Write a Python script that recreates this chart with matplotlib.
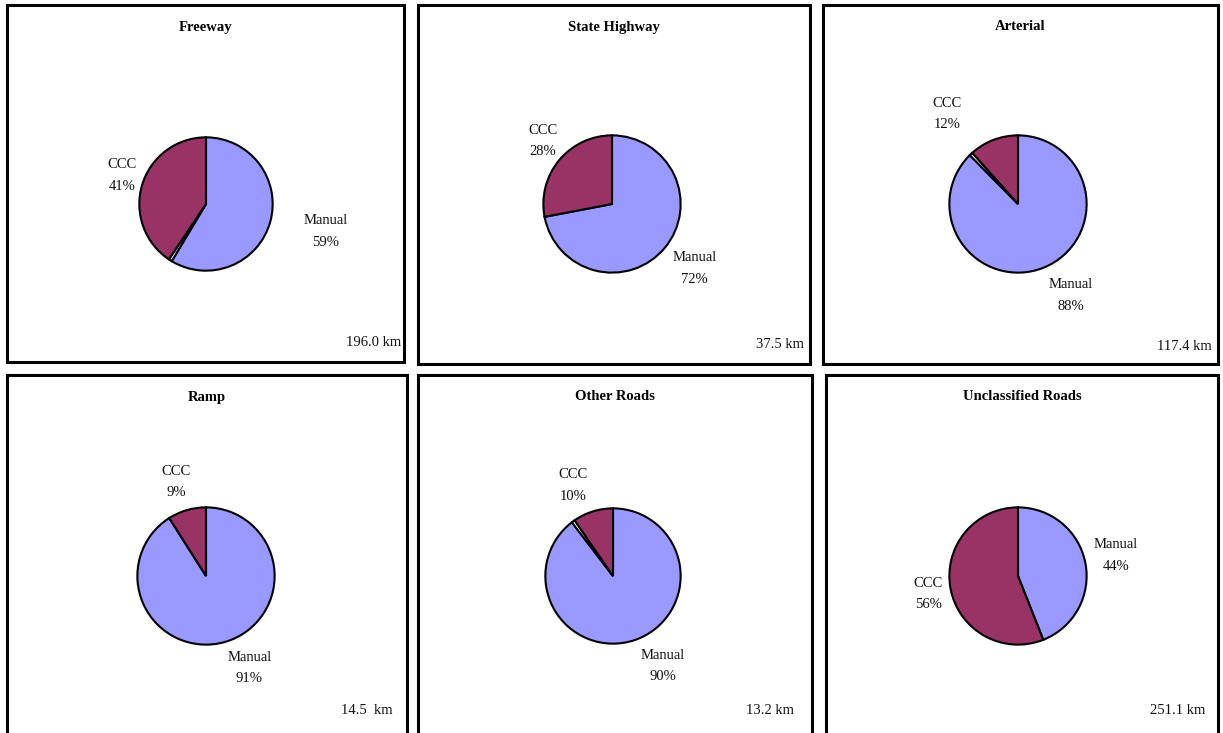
import matplotlib
matplotlib.use("Agg")
import matplotlib.pyplot as plt
from matplotlib.patches import Rectangle

# Road classes and share of length by survey method (percent of total)
road_classes = ["Freeway", "State Highway", "Arterial", "Ramp", "Other Roads", "Unclassified Roads"]
manual_pct = [58.6, 72.0, 87.6, 91.0, 89.6, 44.0]
other_pct = [0.8, 0.0, 0.8, 0.0, 0.8, 0.0]
ccc_pct = [40.6, 28.0, 11.6, 9.0, 9.6, 56.0]
lengths_km = ["196.0 km", "37.5 km", "117.4 km", "14.5  km", "13.2 km", "251.1 km"]

W, H = 1223, 733
fig = plt.figure(figsize=(W / 100, H / 100), dpi=100)
fig.patch.set_facecolor("white")

SERIF = ["Liberation Serif", "DejaVu Serif"]
MANUAL_C = "#9999FF"
CCC_C = "#993366"
TXT_C = "#111111"


def fx(x):
    return x / W


def fy(y):
    return 1 - y / H


# panel frames (left, top, right, bottom) in pixels
panels = [
    (7, 5, 404, 362),
    (418, 5, 810, 364),
    (823, 5, 1218, 364),
    (7, 375, 407, 745),
    (418, 375, 812, 745),
    (826, 375, 1218, 745),
]
# pie centre and radius in pixels
pies = [
    (206, 204, 68),
    (612, 204, 70),
    (1018, 204, 70),
    (206, 576, 70),
    (613, 576, 69),
    (1018, 576, 70),
]
# label offsets in radius units: CCC label, Manual label
ccc_pos = [(-1.26, 0.43), (-1.01, 0.92), (-1.03, 1.31), (-0.43, 1.37), (-0.59, 1.34), (-1.31, -0.26)]
man_pos = [(1.79, -0.41), (1.2, -0.94), (0.77, -1.33), (0.63, -1.34), (0.74, -1.33), (1.43, 0.30)]
title_y = [27, 27, 27, 397, 397, 397]
km_xy = [(401, 343), (804, 345), (1212, 346), (393, 711), (794, 711), (1205, 711)]

for i, name in enumerate(road_classes):
    l, t, r, b = panels[i]
    fig.patches.append(Rectangle((fx(l), fy(b)), fx(r) - fx(l), fy(t) - fy(b),
                                 transform=fig.transFigure, fill=False,
                                 edgecolor="black", linewidth=2.2, zorder=1))
    cx = (l + r) / 2
    fig.text(fx(cx), fy(title_y[i]), name, ha="center", va="center",
             fontsize=10.5, fontweight="bold", family=SERIF)
    kx, ky = km_xy[i]
    fig.text(fx(kx), fy(ky), lengths_km[i], ha="right", va="center",
             fontsize=10.5, family=SERIF, color=TXT_C)

    px, py, R = pies[i]
    ax = fig.add_axes([fx(px - R), fy(py + R), 2 * R / W, 2 * R / H])
    ax.axis("off")
    vals = [manual_pct[i], other_pct[i], ccc_pct[i]]
    cols = [MANUAL_C, "white", CCC_C]
    keep = [k for k, v in enumerate(vals) if v > 0]
    ax.pie([vals[k] for k in keep], colors=[cols[k] for k in keep],
           startangle=90, counterclock=False, radius=1.0,
           wedgeprops=dict(edgecolor="black", linewidth=1.5),
           frame=False)
    ax.set_xlim(-1.02, 1.02)
    ax.set_ylim(-1.02, 1.02)
    ax.set_aspect("auto")
    total = sum(vals)
    cxl, cyl = ccc_pos[i]
    ax.text(cxl, cyl, "CCC\n%d%%" % round(100 * ccc_pct[i] / total),
            ha="center", va="center", fontsize=10.5, family=SERIF,
            linespacing=1.85, clip_on=False, color=TXT_C)
    mxl, myl = man_pos[i]
    ax.text(mxl, myl, "Manual\n%d%%" % round(100 * manual_pct[i] / total),
            ha="center", va="center", fontsize=10.5, family=SERIF,
            linespacing=1.85, clip_on=False, color=TXT_C)

fig.savefig("out.png", dpi=100, facecolor="white")
